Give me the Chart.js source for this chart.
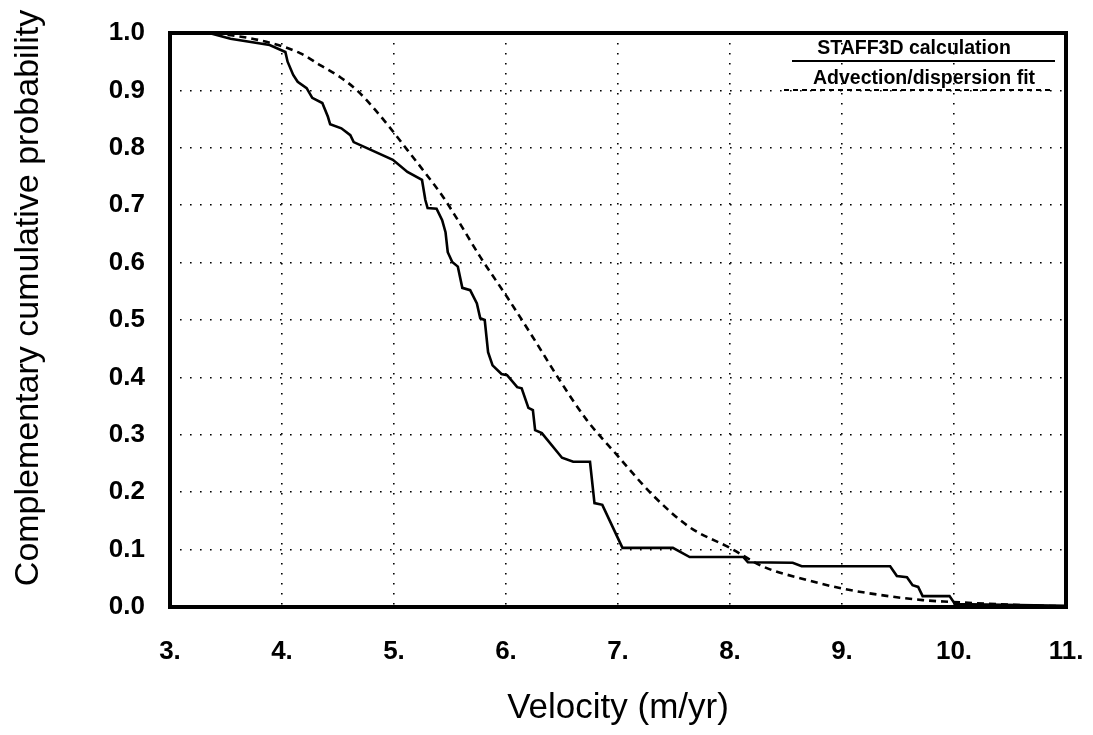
<!DOCTYPE html>
<html>
<head>
<meta charset="utf-8">
<script src="https://cdn.jsdelivr.net/npm/chart.js@4/dist/chart.umd.min.js"></script>
<style>
  body { margin: 0; background: #fff; }
  #wrap { width: 1093px; height: 735px; position: relative; }
</style>
</head>
<body>
<div id="wrap"><canvas id="cdf"></canvas></div>
<script>
const FONT = '"Liberation Sans", Arial, Helvetica, sans-serif';

// STAFF3D calculation (solid, stepped)
const staffVel = [3.35, 3.54, 3.89, 4.03, 4.05, 4.10, 4.14, 4.22, 4.27, 4.36, 4.41, 4.43, 4.53, 4.61, 4.64,
  4.99, 5.12, 5.25, 5.28, 5.30, 5.38, 5.43, 5.46, 5.48, 5.52, 5.57, 5.61, 5.68, 5.74, 5.77, 5.81,
  5.84, 5.88, 5.96, 6.01, 6.10, 6.14, 6.20, 6.24, 6.26, 6.32, 6.50, 6.60, 6.75, 6.79, 6.86, 7.04,
  7.49, 7.64, 8.12, 8.16, 8.56, 8.64, 9.43, 9.49, 9.58, 9.63, 9.68, 9.72, 9.96, 10.01, 11.0];
const staffProb = [1.0, 0.99, 0.979, 0.967, 0.95, 0.927, 0.915, 0.904, 0.887, 0.878, 0.854, 0.841, 0.834, 0.822, 0.810,
  0.779, 0.758, 0.744, 0.709, 0.695, 0.694, 0.674, 0.653, 0.618, 0.601, 0.593, 0.556, 0.552, 0.529, 0.503, 0.500,
  0.444, 0.421, 0.406, 0.404, 0.383, 0.381, 0.347, 0.343, 0.308, 0.303, 0.260, 0.253, 0.253, 0.181, 0.178, 0.103,
  0.103, 0.087, 0.087, 0.078, 0.077, 0.071, 0.071, 0.054, 0.052, 0.038, 0.035, 0.019, 0.019, 0.005, 0.002];

// Advection/dispersion fit (dashed)
const fitVel = [3.3, 3.62, 3.89, 4.16, 4.34, 4.52, 4.67, 4.81, 4.96, 5.12, 5.26, 5.44, 5.57, 5.77, 6.01,
  6.24, 6.48, 6.72, 6.99, 7.31, 7.64, 8.00, 8.30, 8.69, 8.98, 9.34, 9.72, 9.96, 10.5, 11.0];
const fitProb = [1.0, 0.994, 0.983, 0.965, 0.944, 0.923, 0.900, 0.871, 0.836, 0.796, 0.761, 0.714, 0.674, 0.610, 0.540,
  0.470, 0.395, 0.326, 0.265, 0.195, 0.139, 0.103, 0.070, 0.047, 0.033, 0.021, 0.012, 0.009, 0.004, 0.001];

const xTicks = [3, 4, 5, 6, 7, 8, 9, 10, 11];
const yTicks = [0, 0.1, 0.2, 0.3, 0.4, 0.5, 0.6, 0.7, 0.8, 0.9, 1.0];

const toPts = (xs, ys) => xs.map((x, i) => ({ x: x, y: ys[i] }));

// frame around plot area
const framePlugin = {
  id: 'frame',
  afterDatasetsDraw(chart) {
    const { ctx, chartArea: a } = chart;
    ctx.save();
    ctx.strokeStyle = '#000';
    ctx.lineWidth = 4;
    ctx.strokeRect(a.left, a.top, a.right - a.left, a.bottom - a.top);
    ctx.restore();
  }
};

// legend: label centred above its line sample, top-right inside plot
const legendPlugin = {
  id: 'insideLegend',
  afterDraw(chart) {
    const ctx = chart.ctx;
    const ds = chart.data.datasets;
    ctx.save();
    ctx.fillStyle = '#000';
    ctx.font = 'bold 19.5px ' + FONT;
    ctx.textAlign = 'center';
    ctx.textBaseline = 'alphabetic';
    ctx.fillText(ds[0].label, 914, 54);
    ctx.fillText(ds[1].label, 924, 84);
    ctx.strokeStyle = '#000';
    ctx.lineWidth = 2;
    ctx.beginPath();
    ctx.moveTo(792, 61); ctx.lineTo(1055, 61);
    ctx.stroke();
    ctx.setLineDash([5, 4]);
    ctx.beginPath();
    ctx.moveTo(784, 90); ctx.lineTo(1052, 90);
    ctx.stroke();
    ctx.restore();
  }
};

// y-axis title placed as in the figure
const yTitlePlugin = {
  id: 'yTitle',
  afterDraw(chart) {
    const ctx = chart.ctx;
    ctx.save();
    ctx.translate(29, 298);
    ctx.rotate(-Math.PI / 2);
    ctx.fillStyle = '#000';
    ctx.font = '34px ' + FONT;
    ctx.textAlign = 'center';
    ctx.textBaseline = 'middle';
    ctx.fillText('Complementary cumulative probability', 0, 0);
    ctx.restore();
  }
};

const dotGrid = {
  color: '#000',
  lineWidth: 1.6,
  drawTicks: false
};

new Chart(document.getElementById('cdf'), {
  type: 'scatter',
  data: {
    datasets: [
      {
        label: 'STAFF3D calculation',
        data: toPts(staffVel, staffProb),
        showLine: true,
        borderColor: '#000',
        borderWidth: 2.6,
        pointRadius: 0,
        tension: 0
      },
      {
        label: 'Advection/dispersion fit',
        data: toPts(fitVel, fitProb),
        showLine: true,
        borderColor: '#000',
        borderWidth: 2.6,
        borderDash: [7, 5],
        pointRadius: 0,
        cubicInterpolationMode: 'monotone'
      }
    ]
  },
  options: {
    responsive: true,
    maintainAspectRatio: false,
    animation: false,
    layout: { padding: { left: 0, top: 33, right: 27, bottom: 0 } },
    plugins: {
      legend: { display: false },
      tooltip: { enabled: false }
    },
    scales: {
      x: {
        type: 'linear',
        min: 3, max: 11,
        afterFit: s => { s.height = 128; s.paddingLeft = 0; s.paddingRight = 0; },
        afterBuildTicks: s => { s.ticks = xTicks.map(v => ({ value: v })); },
        ticks: {
          color: '#000',
          padding: 29,
          maxRotation: 0,
          font: { family: FONT, size: 26, weight: 'bold' },
          callback: v => v.toFixed(0) + '.'
        },
        grid: dotGrid,
        border: { display: false, dash: [1.6, 8.4] },
        title: {
          display: true,
          text: 'Velocity (m/yr)',
          color: '#000',
          font: { family: FONT, size: 35 },
          padding: { top: 0, bottom: 6 }
        }
      },
      y: {
        type: 'linear',
        min: 0, max: 1,
        afterFit: s => { s.width = 170; s.paddingTop = 0; s.paddingBottom = 0; },
        afterBuildTicks: s => { s.ticks = yTicks.map(v => ({ value: v })); },
        ticks: {
          color: '#000',
          padding: 25,
          font: { family: FONT, size: 26, weight: 'bold' },
          callback: v => v.toFixed(1)
        },
        grid: dotGrid,
        border: { display: false, dash: [1.6, 8.4] }
      }
    }
  },
  plugins: [framePlugin, legendPlugin, yTitlePlugin]
});
</script>
</body>
</html>
